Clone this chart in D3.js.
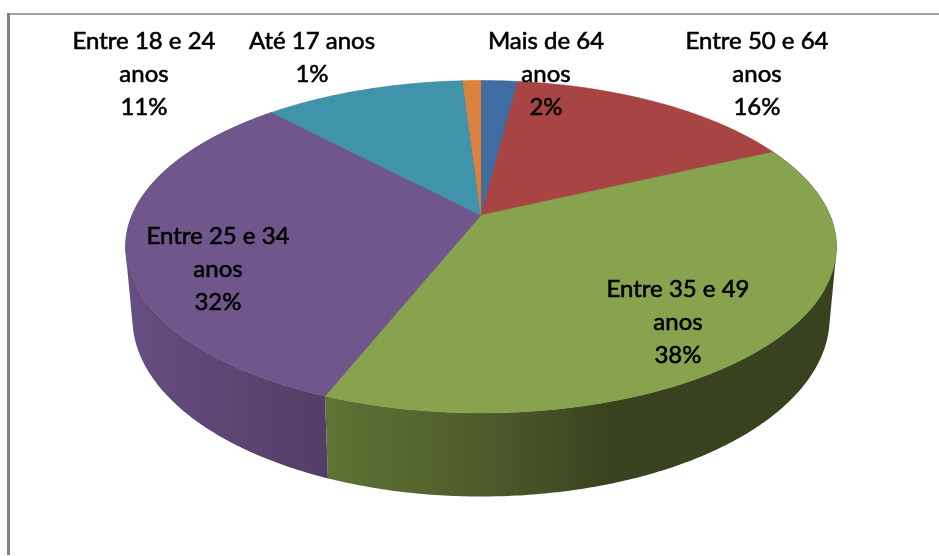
<!DOCTYPE html>
<html>
<head>
<meta charset="utf-8">
<script src="https://cdn.jsdelivr.net/npm/d3@7"></script>
<style>
  html, body { margin: 0; padding: 0; background: #fff; }
  svg { display: block; }
</style>
</head>
<body>
<div id="chart"></div>
<script>
// clockwise from 12 o'clock, as in the picture
var categories = ["Mais de 64 anos", "Entre 50 e 64 anos", "Entre 35 e 49 anos", "Entre 25 e 34 anos", "Entre 18 e 24 anos", "Até 17 anos"]
var percents = [2, 16, 38, 32, 11, 1]
var topColors = ["#3f6ca3", "#a84544", "#87a34e", "#6f578c", "#3f94ac", "#d9833e"]

var width = 939, height = 556

// tilted disc: top face and the lower edge of the wall
var top3d = {cx: 481, cy: 246.75, rx: 355.5, ry: 166.25}
var bottom3d = {cx: 481, cy: 318, rx: 348.6, ry: 178.5}
var tilt = -0.19 // pushes the pie centre up the ellipse (perspective)

// where each label sits: centre x, first baseline
var labelSpots = [[546, 49], [757, 49], [678, 297], [218, 244], [144, 49], [312, 49]]
var lineGap = 33

var svg = d3.select("#chart").append("svg")
  .attr("width", width)
  .attr("height", height)

var defs = svg.append("defs")

// frame, only top and left are visible
svg.append("line").attr("x1", 8).attr("x2", width).attr("y1", 14).attr("y2", 14)
  .attr("stroke", "#a3a3a3").attr("stroke-width", 2)
svg.append("line").attr("x1", 8.5).attr("x2", 8.5).attr("y1", 13).attr("y2", 555)
  .attr("stroke", "#828282").attr("stroke-width", 3)

var slices = d3.pie().sort(null)(percents)

function project(disc, angle, r) {
  var u = r * Math.sin(angle), v = -r * Math.cos(angle)
  var k = 1 + tilt * v
  return [
    disc.cx + disc.rx * u * Math.sqrt(1 - tilt * tilt) / k,
    disc.cy + disc.ry * (v + tilt) / k
  ]
}

function anglesOf(d) {
  var n = Math.max(2, Math.ceil((d.endAngle - d.startAngle) / 0.01))
  return d3.range(n + 1).map(i => d.startAngle + (d.endAngle - d.startAngle) * i / n)
}

// wall gradients run left to right across the picture; only the green and
// purple walls can be seen, the others stay behind the top face
var wallStops = {
  2: [[327, "#5f7334"], [480, "#4e5c2b"], [610, "#39431f"], [837, "#38421e"]],
  3: [[125, "#664f82"], [200, "#5f4876"], [327, "#523e66"]]
}

Object.keys(wallStops).forEach(function(i) {
  var stops = wallStops[i]
  var x0 = stops[0][0], x1 = stops[stops.length - 1][0]
  defs.append("linearGradient")
    .attr("id", "wall" + i)
    .attr("gradientUnits", "userSpaceOnUse")
    .attr("x1", x0).attr("x2", x1).attr("y1", 0).attr("y2", 0)
    .selectAll("stop")
    .data(stops)
    .enter().append("stop")
    .attr("offset", s => (s[0] - x0) / (x1 - x0))
    .attr("stop-color", s => s[1])
})

var line = d3.line()
var walls = svg.append("g")

slices.forEach(function(d, i) {
  if (!wallStops[i]) return
  // one path of many small quads so no seams show between them
  var quads = d3.pairs(anglesOf(d)).map(function(p) {
    var quad = [
      project(top3d, p[0], 1), project(top3d, p[1], 1),
      project(bottom3d, p[1], 1), project(bottom3d, p[0], 1)
    ]
    // all quads wound the same way, or overlaps near the tangent cancel out
    if (d3.polygonArea(quad) < 0) quad.reverse()
    return line(quad) + "Z"
  })
  walls.append("path")
    .attr("d", quads.join(""))
    .attr("fill", "url(#wall" + i + ")")
})

svg.append("g").selectAll("path")
  .data(slices)
  .enter().append("path")
  .attr("d", function(d) {
    var rim = anglesOf(d).map(t => project(top3d, t, 1))
    return line([project(top3d, 0, 0)].concat(rim)) + "Z"
  })
  .attr("fill", (d, i) => topColors[i])
  .attr("stroke", (d, i) => d3.color(topColors[i]).darker(0.4))
  .attr("stroke-width", 0.5)
  .attr("stroke-linejoin", "round")

// the source is a soft upscaled screenshot
defs.append("filter").attr("id", "soft")
  .append("feGaussianBlur").attr("stdDeviation", 0.35)

var labels = svg.append("g")
  .attr("font-family", "Lato, 'Open Sans', sans-serif")
  .attr("font-size", "24px")
  .attr("font-weight", 400)
  .attr("fill", "#000")
  .attr("stroke", "#000")
  .attr("stroke-width", 0.6)
  .attr("text-anchor", "middle")
  .attr("filter", "url(#soft)")

categories.forEach(function(name, i) {
  // long names wrap before "anos"
  var lines = name.length > 11 ? [name.replace(" anos", ""), "anos"] : [name]
  lines.push(percents[i] + "%")
  lines.forEach(function(txt, j) {
    labels.append("text")
      .attr("x", labelSpots[i][0])
      .attr("y", labelSpots[i][1] + j * lineGap)
      .text(txt)
  })
})
</script>
</body>
</html>
